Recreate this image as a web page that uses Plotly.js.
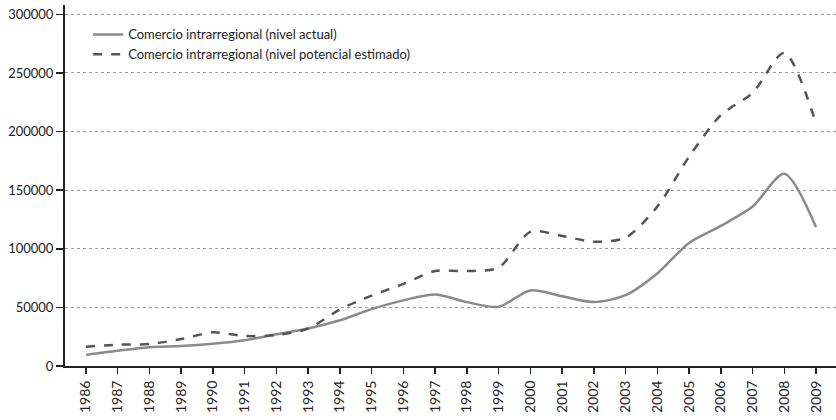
<!DOCTYPE html>
<html>
<head>
<meta charset="utf-8">
<script src="https://cdn.plot.ly/plotly-3.0.1.min.js"></script>
<style>html,body{margin:0;padding:0;background:#fff;}#chart{width:836px;height:420px;}</style>
</head>
<body>
<div id="chart"></div>
<script>
var years = [1986,1987,1988,1989,1990,1991,1992,1993,1994,1995,1996,1997,1998,1999,2000,2001,2002,2003,2004,2005,2006,2007,2008,2009];
var actual = [9500,13000,16000,17000,19000,22000,27000,32000,39000,48500,56000,61000,54500,50500,64500,59500,54500,60500,79000,105000,119500,136000,164000,118500];
var potential = [16500,18200,18700,23000,28700,25600,26400,32000,48300,60000,70000,81000,81000,84000,114400,111000,106000,109500,136000,178500,214000,233000,267000,207000];
var nameActual = "Comercio intrarregional (nivel actual)";
var namePotential = "Comercio intrarregional (nivel potencial estimado)";
var yTicks = [0,50000,100000,150000,200000,250000,300000];

var traces = [
  {x: years, y: actual, name: nameActual, type: "scatter", mode: "lines",
   line: {color: "#8a8a8a", width: 2.5, shape: "spline", smoothing: 0.8}},
  {x: years, y: potential, name: namePotential, type: "scatter", mode: "lines",
   line: {color: "#555555", width: 2.5, dash: "dash", shape: "spline", smoothing: 0.8}}
];
var layout = {
  width: 836, height: 420,
  margin: {l: 65, r: 0, t: 5, b: 54},
  paper_bgcolor: "#fff", plot_bgcolor: "#fff",
  font: {family: "Lato, 'Open Sans', sans-serif", size: 13, color: "#222"},
  showlegend: true,
  legend: {x: 0.03, y: 0.96, xanchor: "left", yanchor: "top", bgcolor: "rgba(0,0,0,0)",
           font: {size: 13, color: "#222"}, itemwidth: 30, tracegroupgap: 0},
  xaxis: {range: [1985.34, 2009.63], tickmode: "array", tickvals: years, ticktext: years.map(String),
          tickangle: -90, ticks: "outside", ticklen: 6, tickwidth: 1.5, tickcolor: "#222",
          showline: true, linecolor: "#222", linewidth: 2, showgrid: false, zeroline: false,
          ticklabelstandoff: 1, tickfont: {size: 14}},
  yaxis: {range: [0, 308000], tickmode: "array", tickvals: yTicks, ticktext: yTicks.map(String),
          ticks: "outside", ticklen: 7, tickwidth: 1.5, tickcolor: "#222",
          showline: true, linecolor: "#222", linewidth: 2, showgrid: true,
          gridcolor: "#999", griddash: "dot", gridwidth: 1, zeroline: false,
          tickfont: {size: 13}}
};
Plotly.newPlot("chart", traces, layout, {displayModeBar: false, staticPlot: true});
</script>
</body>
</html>
